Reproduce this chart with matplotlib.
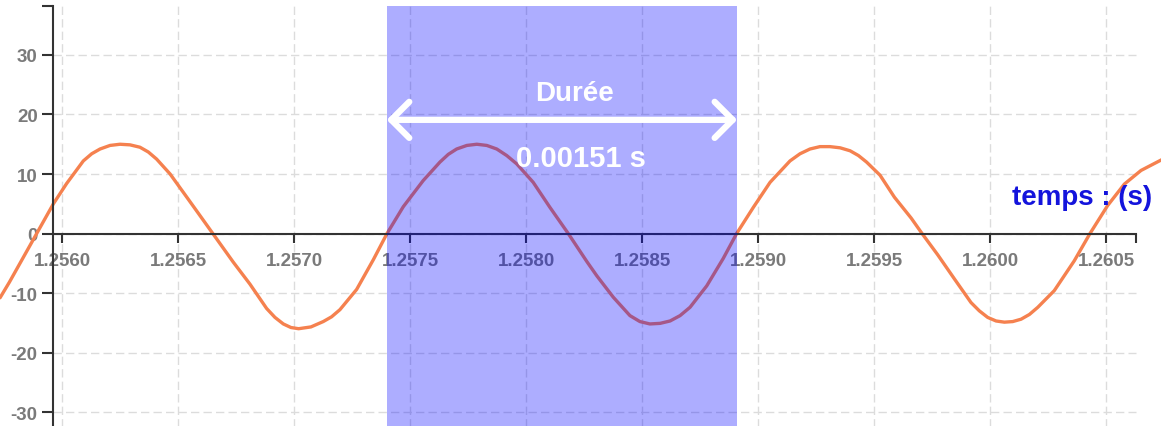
import matplotlib
matplotlib.use('Agg')
import matplotlib.pyplot as plt
from matplotlib.ticker import FormatStrFormatter

plt.rcParams['font.family'] = ['Liberation Sans', 'DejaVu Sans']
plt.rcParams['axes.unicode_minus'] = False

# signal (temps en s, tension)
temps = [1.255733, 1.255773, 1.255891, 1.255963, 1.256020, 1.256092, 1.256128,
         1.256164, 1.256207, 1.256250, 1.256293, 1.256336, 1.256372, 1.256408,
         1.256466, 1.256538, 1.256595, 1.256650, 1.256738, 1.256810, 1.256882,
         1.256918, 1.256954, 1.256987, 1.257020, 1.257073, 1.257126, 1.257162,
         1.257198, 1.257270, 1.257342, 1.257401, 1.257471, 1.257557, 1.257629,
         1.257665, 1.257701, 1.257745, 1.257788, 1.257831, 1.257874, 1.257917,
         1.257960, 1.258031, 1.258103, 1.258182, 1.258262, 1.258305, 1.258376,
         1.258448, 1.258491, 1.258534, 1.258578, 1.258621, 1.258664, 1.258707,
         1.258779, 1.258850, 1.258908, 1.258980, 1.259052, 1.259138, 1.259181,
         1.259224, 1.259267, 1.259310, 1.259354, 1.259397, 1.259433, 1.259468,
         1.259526, 1.259588, 1.259660, 1.259707, 1.259775, 1.259846, 1.259918,
         1.259954, 1.259990, 1.260026, 1.260062, 1.260098, 1.260134, 1.260170,
         1.260206, 1.260277, 1.260363, 1.260431, 1.260507, 1.260579, 1.260651,
         1.260730, 1.260760]
tension = [-10.8, -8.2, 0.0, 5.0, 8.4, 12.2, 13.4,
           14.2, 14.8, 15.0, 14.9, 14.5, 13.7, 12.5,
           10.0, 6.1, 3.0, 0.0, -4.8, -8.5, -12.6,
           -14.1, -15.2, -15.8, -16.0, -15.7, -14.8, -14.0,
           -12.8, -9.4, -4.4, 0.0, 4.5, 8.9, 12.0,
           13.3, 14.2, 14.8, 15.0, 14.8, 14.2, 13.1,
           11.7, 8.6, 4.4, 0.0, -4.7, -7.1, -10.7,
           -13.8, -14.8, -15.2, -15.1, -14.7, -13.8, -12.4,
           -8.8, -4.2, 0.0, 4.4, 8.6, 12.2, 13.4,
           14.2, 14.6, 14.6, 14.4, 13.9, 13.1, 12.0,
           9.8, 6.1, 2.6, 0.0, -3.6, -7.6, -11.6,
           -13.0, -14.1, -14.7, -14.9, -14.8, -14.4, -13.6,
           -12.4, -9.6, -4.6, 0.0, 4.7, 8.3, 10.6,
           12.2, 12.8]

x_ticks = [1.2560, 1.2565, 1.2570, 1.2575, 1.2580, 1.2585, 1.2590, 1.2595, 1.2600, 1.2605]
y_ticks = [-30, -20, -10, 0, 10, 20, 30]

duree_debut = 1.25740
duree_fin = 1.25891
duree_txt = '0.00151 s'
titre_duree = 'Durée'
label_x = 'temps : (s)'

# bornes des axes
x0, x1 = 1.255961, 1.260629
ytop = 38.24

fig = plt.figure(figsize=(11.61, 4.27), dpi=100)
ax = fig.add_axes([0, 0, 1, 1])
ax.set_xlim(1.2557328, 1.260737)
ax.set_ylim(-32.35, 39.41)
ax.patch.set_visible(False)

# grille pointillee
ax.hlines(y_ticks, x0, x1, colors='#dcdcdc', linestyles=[(0, (6, 3))], lw=1, zorder=1)
ax.vlines(x_ticks, -40, ytop, colors='#dcdcdc', linestyles=[(0, (6, 3))], lw=1, zorder=1)

ax.plot(temps, tension, color='#f5814f', lw=2.4, zorder=2,
        solid_joinstyle='round', solid_capstyle='round')

for s in ['top', 'right']:
    ax.spines[s].set_visible(False)
ax.spines['left'].set_position(('data', x0))
ax.spines['left'].set_bounds(-40, ytop)
ax.spines['bottom'].set_position(('data', 0))
ax.spines['bottom'].set_bounds(x0, x1)
for s in ['left', 'bottom']:
    ax.spines[s].set_color('#333333')
    ax.spines[s].set_linewidth(1.5)

ax.set_xticks(x_ticks)
ax.xaxis.set_major_formatter(FormatStrFormatter('%.4f'))
ax.set_yticks(y_ticks)
ax.set_xticks([x1], minor=True)
ax.set_yticks([ytop], minor=True)
ax.tick_params(axis='x', which='both', direction='out', length=6.5, width=1.5,
               color='#333333', pad=7, labelsize=13.5, labelcolor='#7a7a7a')
ax.tick_params(axis='y', which='both', direction='out', length=8, width=1.5,
               color='#333333', pad=3, labelsize=13.5, labelcolor='#7a7a7a')
for lab in ax.get_xticklabels() + ax.get_yticklabels():
    lab.set_fontweight('bold')

# zone de la duree
ax.axvspan(duree_debut, duree_fin, ymin=0, ymax=1 - 7 / 427, color='blue',
           alpha=0.32, lw=0, zorder=5)
ax.annotate('', xy=(duree_debut, 19.1), xytext=(duree_fin, 19.1),
            arrowprops=dict(arrowstyle='<->,head_length=0.65,head_width=0.65',
                            color='white', lw=4.5, shrinkA=0, shrinkB=0,
                            mutation_scale=20), zorder=6)
ax.text(1.258211, 22.5, titre_duree, color='white', fontsize=20, fontweight='bold',
        ha='center', va='baseline', zorder=6)
ax.text(1.258237, 11.4, duree_txt, color='white', fontsize=21, fontweight='bold',
        ha='center', va='baseline', zorder=6)

ax.text(1.260697, 4.96, label_x, color='#1414dc', fontsize=20, fontweight='bold',
        ha='right', va='baseline', zorder=6)

fig.savefig('out.png', dpi=100)
